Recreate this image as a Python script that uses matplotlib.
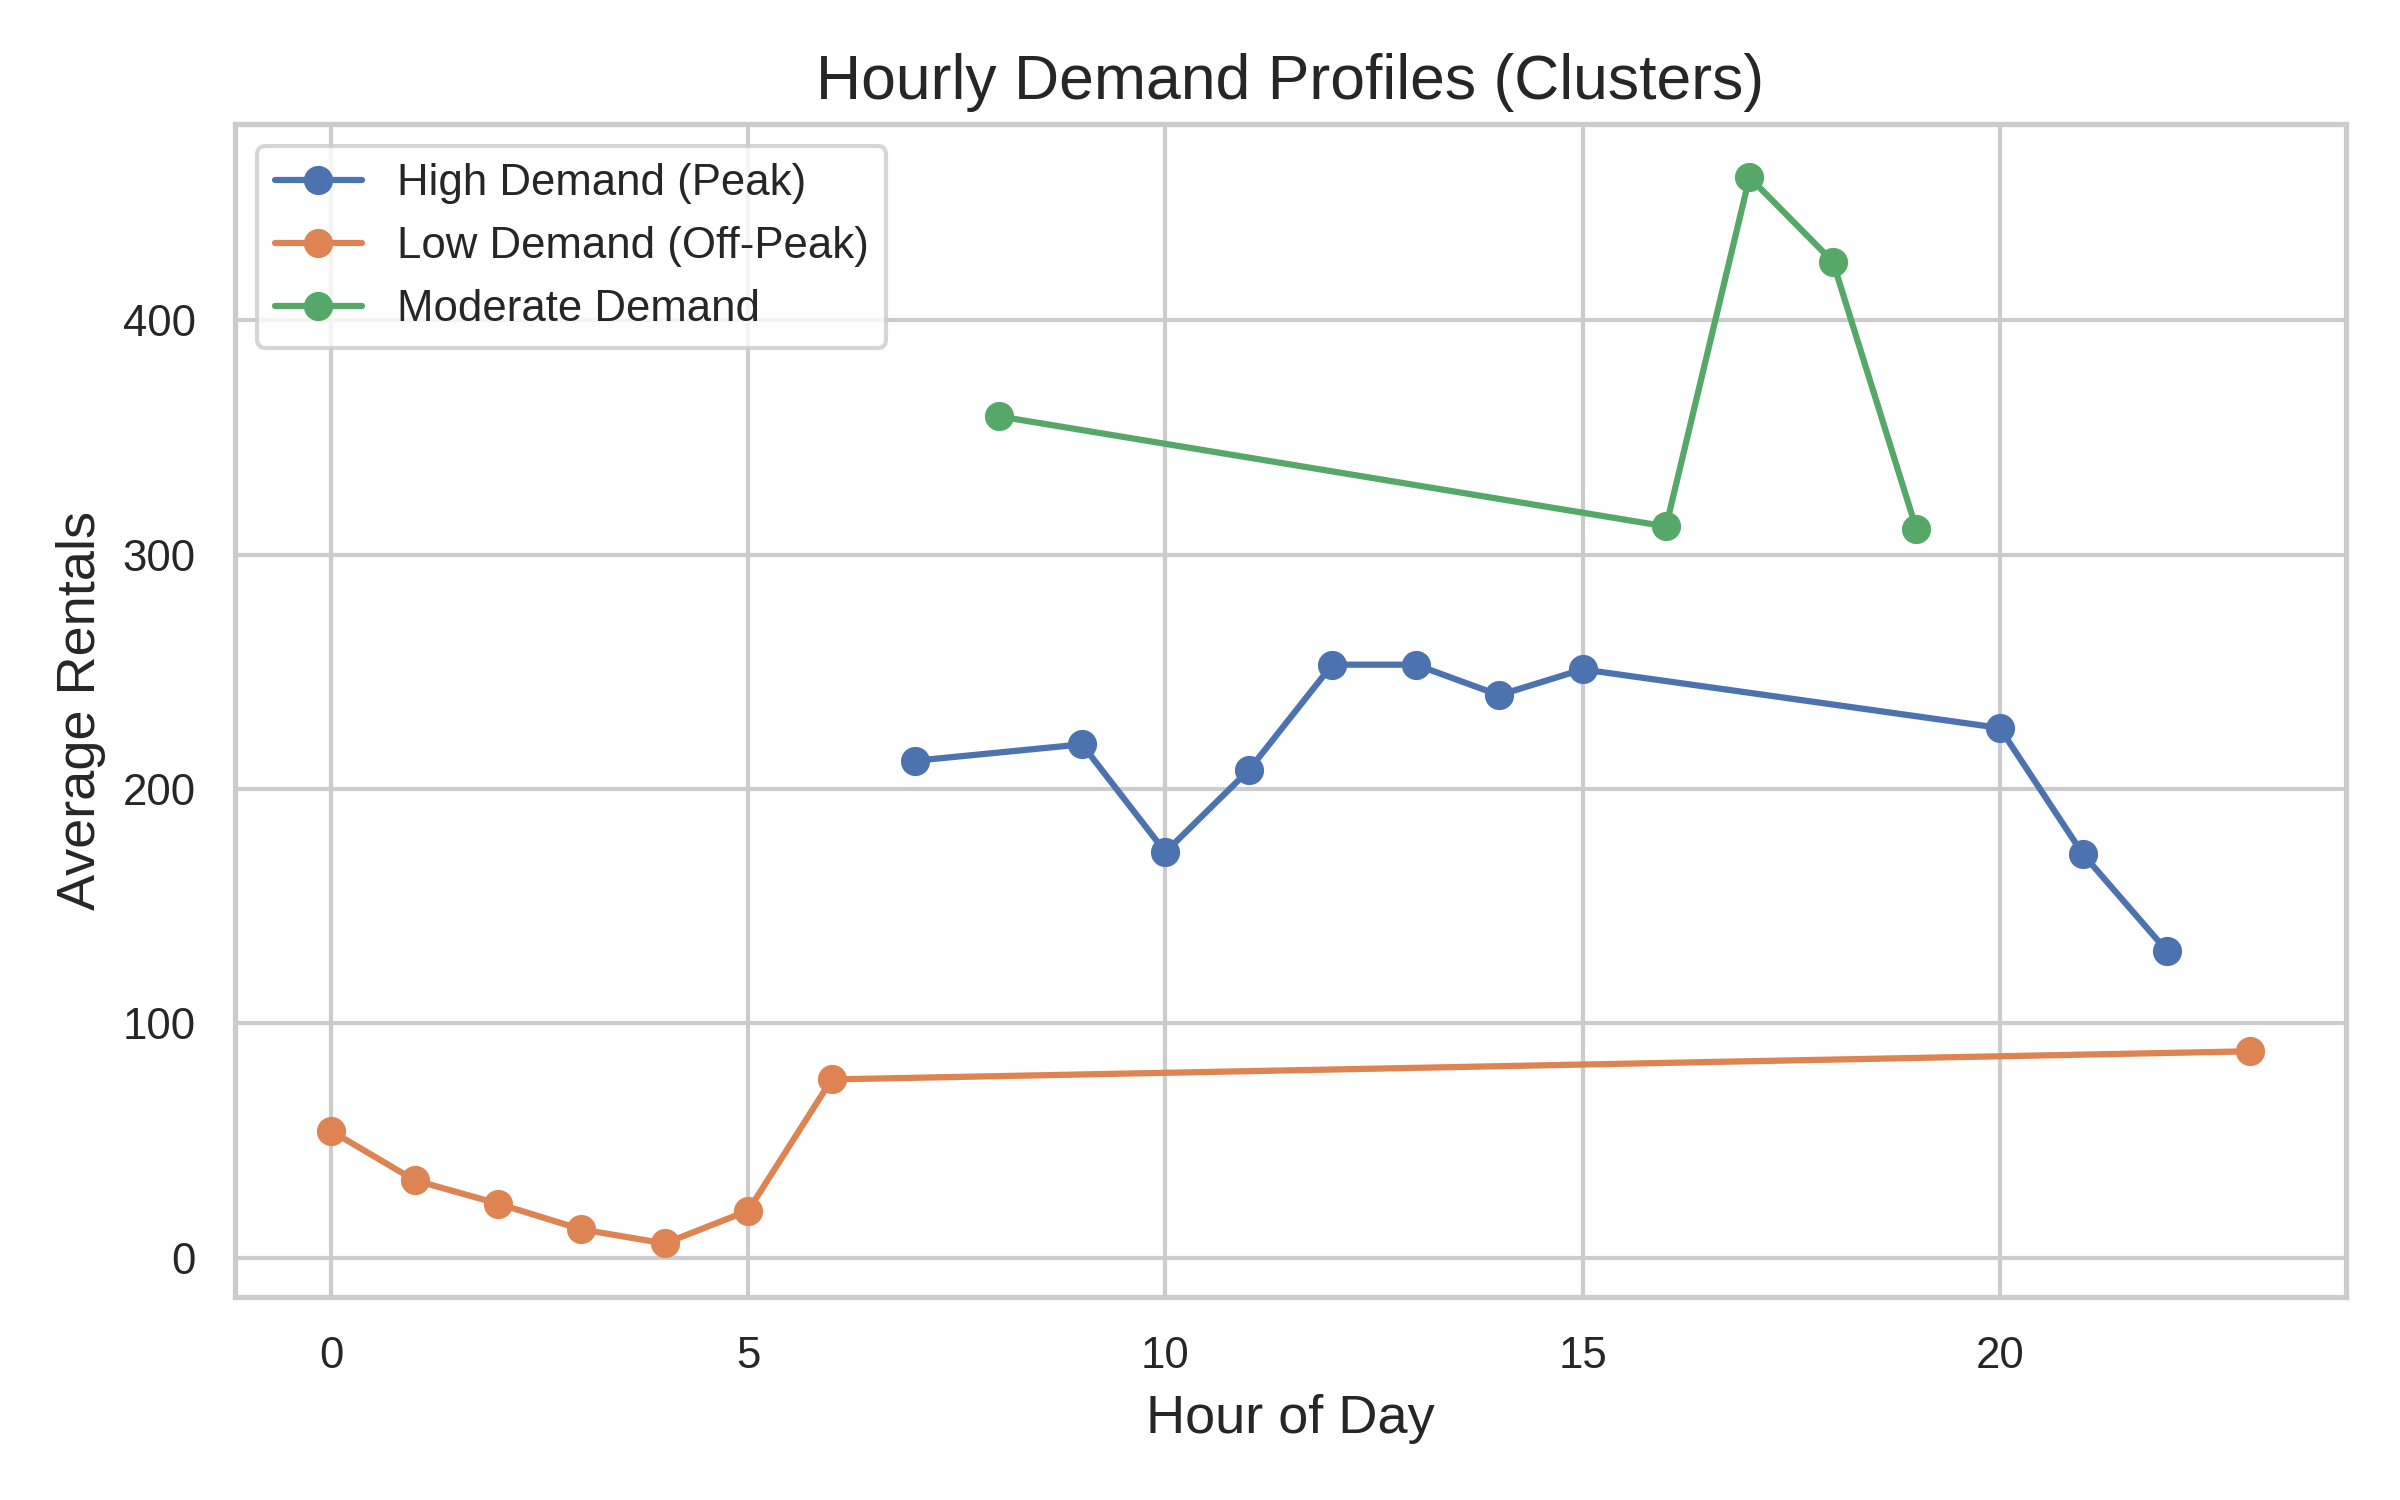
import matplotlib
matplotlib.use("Agg")
import matplotlib.pyplot as plt
import seaborn as sns

sns.set_theme(style="whitegrid")
plt.rcParams['font.family'] = ['Liberation Sans', 'DejaVu Sans']

peak_hours = [7, 9, 10, 11, 12, 13, 14, 15, 20, 21, 22]
peak_vals = [212, 219, 173, 208, 253, 253, 240, 251, 226, 172, 131]
low_hours = [0, 1, 2, 3, 4, 5, 6, 23]
low_vals = [54, 33, 23, 12, 6, 20, 76, 88]
mod_hours = [8, 16, 17, 18, 19]
mod_vals = [359, 312, 461, 425, 311]

fig, ax = plt.subplots(figsize=(8, 5))
ax.plot(peak_hours, peak_vals, marker="o", label="High Demand (Peak)")
ax.plot(low_hours, low_vals, marker="o", label="Low Demand (Off-Peak)")
ax.plot(mod_hours, mod_vals, marker="o", label="Moderate Demand")
ax.set_title("Hourly Demand Profiles (Clusters)", fontsize=15)
ax.set_xlabel("Hour of Day", fontsize=13)
ax.set_ylabel("Average Rentals", fontsize=13)
ax.tick_params(labelsize=10.5)
ax.legend(loc="upper left", fontsize=10.5)
plt.tight_layout()
plt.savefig("out.png", dpi=300)
